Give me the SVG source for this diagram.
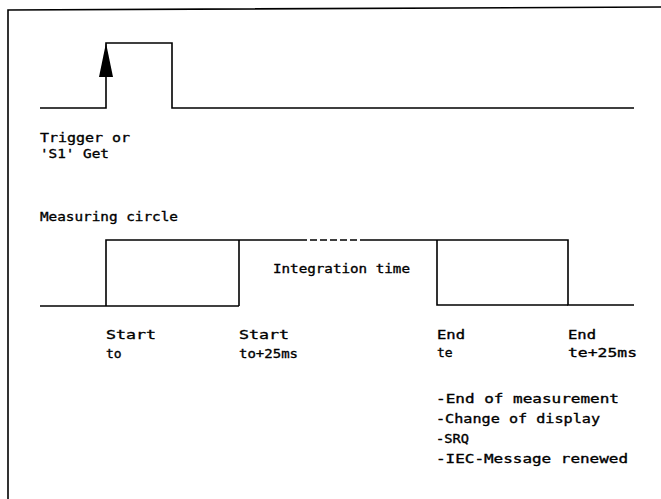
<svg xmlns="http://www.w3.org/2000/svg" width="661" height="499" viewBox="0 0 661 499">
  <style>
    .ln { fill: none; stroke: #000; stroke-width: 1.6; stroke-linejoin: miter; }
    .dash { fill: none; stroke: #000; stroke-width: 1.4; stroke-dasharray: 7 3; }
    text { font-family: "DejaVu Sans Mono", "Liberation Mono", monospace; font-size: 13px; fill: #000; stroke: #000; stroke-width: 0.35; }
  </style>
  <rect x="0" y="0" width="661" height="499" fill="#fff"/>
  <g id="frame">
    <polyline class="ln" points="8,499 8,10 661,7"/>
  </g>
  <g id="trigger-signal">
    <polyline class="ln" points="40,108 106,108 106,43 172,43 172,108 634,108"/>
    <polygon points="106,43 99,77 113,77" fill="#000"/>
    <text x="40" y="142" textLength="90" lengthAdjust="spacingAndGlyphs">Trigger or</text>
    <text x="40" y="158" textLength="69" lengthAdjust="spacingAndGlyphs">'S1' Get</text>
  </g>
  <g id="measuring-signal">
    <text x="40" y="221" textLength="138" lengthAdjust="spacingAndGlyphs">Measuring circle</text>
    <polyline class="ln" points="40,306 239,306"/>
    <polyline class="ln" points="106,306 106,240 300,240"/>
    <line class="dash" x1="300" y1="240" x2="366" y2="240"/>
    <polyline class="ln" points="366,240 568,240 568,305 634,305"/>
    <line class="ln" x1="239" y1="240" x2="239" y2="306"/>
    <polyline class="ln" points="437,240 437,305 568,305"/>
    <text x="273" y="273" textLength="137" lengthAdjust="spacingAndGlyphs">Integration time</text>
  </g>
  <g id="start-to">
    <text x="106" y="339" textLength="50" lengthAdjust="spacingAndGlyphs">Start</text>
    <text x="106" y="358">to</text>
  </g>
  <g id="start-to25">
    <text x="239" y="339" textLength="50" lengthAdjust="spacingAndGlyphs">Start</text>
    <text x="239" y="358" textLength="59" lengthAdjust="spacingAndGlyphs">to+25ms</text>
  </g>
  <g id="end-te">
    <text x="437" y="339" textLength="28" lengthAdjust="spacingAndGlyphs">End</text>
    <text x="437" y="357">te</text>
  </g>
  <g id="end-te25">
    <text x="568" y="339" textLength="28" lengthAdjust="spacingAndGlyphs">End</text>
    <text x="568" y="357" textLength="69" lengthAdjust="spacingAndGlyphs">te+25ms</text>
  </g>
  <g id="end-actions">
    <text x="436" y="403" textLength="183" lengthAdjust="spacingAndGlyphs">-End of measurement</text>
    <text x="436" y="423" textLength="164" lengthAdjust="spacingAndGlyphs">-Change of display</text>
    <text x="436" y="443" textLength="33" lengthAdjust="spacingAndGlyphs">-SRQ</text>
    <text x="436" y="463" textLength="192" lengthAdjust="spacingAndGlyphs">-IEC-Message renewed</text>
  </g>
</svg>
